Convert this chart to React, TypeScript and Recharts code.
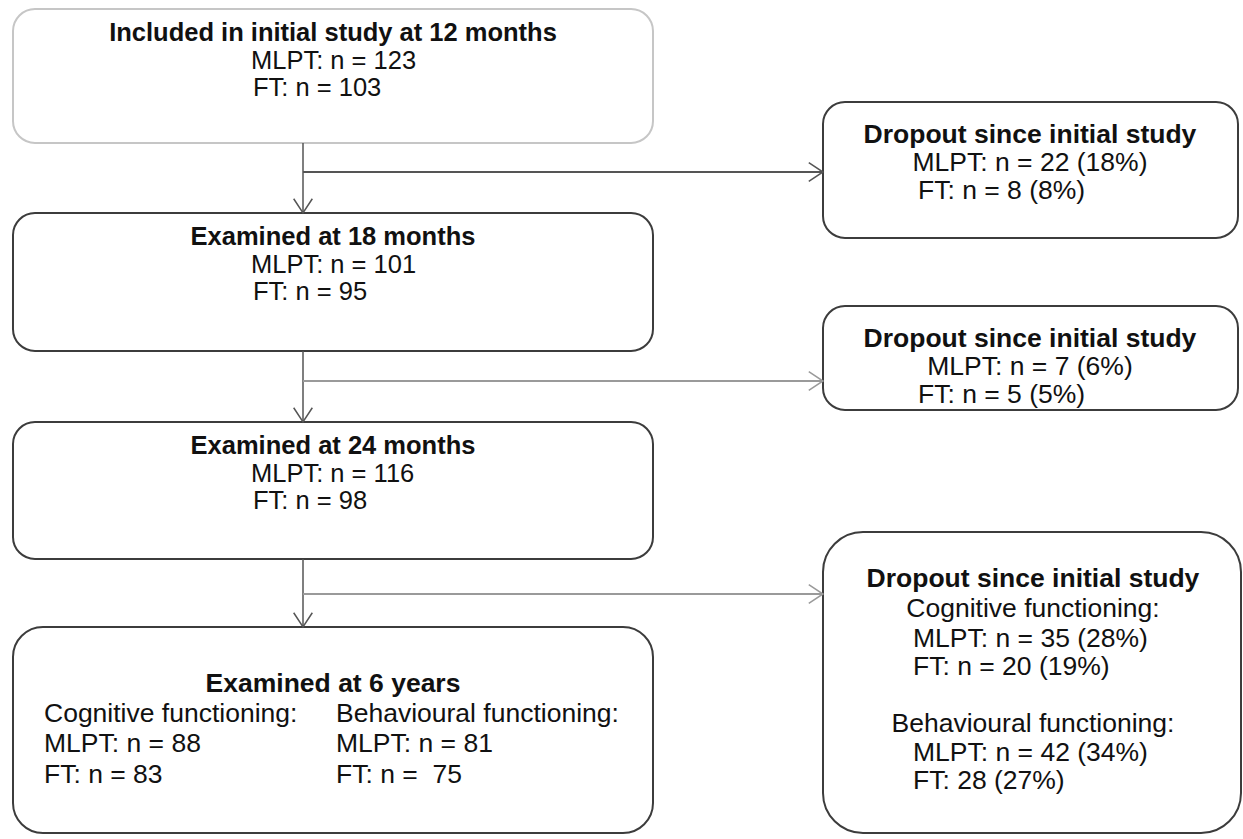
import React from 'react';
import { ComposedChart, XAxis, YAxis, ReferenceArea, ReferenceLine, Scatter } from 'recharts';

// study stages (left column)
const stageTitles = [
  'Included in initial study at 12 months',
  'Examined at 18 months',
  'Examined at 24 months',
  'Examined at 6 years',
];
const stageMlpt = [123, 101, 116];
const stageFt = [103, 95, 98];

// 6 year examination split by outcome
const sixYearGroups = ['Cognitive functioning:', 'Behavioural functioning:'];
const sixYearMlpt = [88, 81];
const sixYearFt = [83, 75];

// dropouts (right column)
const dropoutTitle = 'Dropout since initial study';
const dropoutMlpt = [22, 7];
const dropoutMlptPct = [18, 6];
const dropoutFt = [8, 5];
const dropoutFtPct = [8, 5];
const finalDropoutMlpt = [35, 42];
const finalDropoutMlptPct = [28, 34];
const finalDropoutFt = [20, 28];
const finalDropoutFtPct = [19, 27];

// layout (chart units == pixels)
const W = 1243;
const H = 839;
const leftX = [13, 653];
const leftY = [[9, 143], [213, 351], [422, 559], [627, 833]];
const rightX = [823, 1238];
const rightY = [[102, 238], [306, 410], [532, 833]];
const flowX = 303;
const branchY = [172, 381, 594];

const FONT = '"Liberation Sans", Arial, Helvetica, sans-serif';

type Line = { text: string; dx: number; dy: number; bold?: boolean; anchor?: 'start' | 'middle'; fs?: number };

const stageLines = (i: number): Line[] => [
  { text: stageTitles[i], dx: 320, dy: 23, bold: true, fs: 25.5 },
  { text: `MLPT: n = ${stageMlpt[i]}`, dx: 238, dy: 50.5, anchor: 'start', fs: 25.5 },
  { text: `FT: n = ${stageFt[i]}`, dx: 240, dy: 78, anchor: 'start', fs: 25.5 },
];

const sixYearLines: Line[] = [
  { text: stageTitles[3], dx: 320, dy: 56, bold: true },
  ...sixYearGroups.flatMap((g, k) => {
    const dx = k === 0 ? 31 : 323;
    return [
      { text: g, dx, dy: 86, anchor: 'start' as const },
      { text: `MLPT: n = ${sixYearMlpt[k]}`, dx, dy: 116, anchor: 'start' as const },
      { text: k === 0 ? `FT: n = ${sixYearFt[k]}` : `FT: n =  ${sixYearFt[k]}`, dx, dy: 147, anchor: 'start' as const },
    ];
  }),
];

const dropoutLines = (i: number): Line[] => [
  { text: dropoutTitle, dx: 207, dy: 32, bold: true },
  { text: `MLPT: n = ${dropoutMlpt[i]} (${dropoutMlptPct[i]}%)`, dx: 207, dy: 60 },
  { text: `FT: n = ${dropoutFt[i]} (${dropoutFtPct[i]}%)`, dx: 95, dy: 88, anchor: 'start' },
];

const finalDropoutLines: Line[] = [
  { text: dropoutTitle, dx: 210, dy: 46, bold: true },
  { text: sixYearGroups[0], dx: 210, dy: 76 },
  { text: `MLPT: n = ${finalDropoutMlpt[0]} (${finalDropoutMlptPct[0]}%)`, dx: 90, dy: 106, anchor: 'start' },
  { text: `FT: n = ${finalDropoutFt[0]} (${finalDropoutFtPct[0]}%)`, dx: 90, dy: 134, anchor: 'start' },
  { text: sixYearGroups[1], dx: 210, dy: 191 },
  { text: `MLPT: n = ${finalDropoutMlpt[1]} (${finalDropoutMlptPct[1]}%)`, dx: 90, dy: 220, anchor: 'start' },
  { text: `FT: ${finalDropoutFt[1]} (${finalDropoutFtPct[1]}%)`, dx: 90, dy: 248, anchor: 'start' },
];

const boxes = [
  { x: leftX, y: leftY[0], r: 22, stroke: '#c6c6c6', lines: stageLines(0) },
  { x: leftX, y: leftY[1], r: 22, stroke: '#3c3c3c', lines: stageLines(1) },
  { x: leftX, y: leftY[2], r: 22, stroke: '#3c3c3c', lines: stageLines(2) },
  { x: leftX, y: leftY[3], r: 30, stroke: '#3c3c3c', lines: sixYearLines },
  { x: rightX, y: rightY[0], r: 22, stroke: '#3c3c3c', lines: dropoutLines(0) },
  { x: rightX, y: rightY[1], r: 22, stroke: '#3c3c3c', lines: dropoutLines(1) },
  { x: [rightX[0], 1241], y: rightY[2], r: 40, stroke: '#3c3c3c', lines: finalDropoutLines },
];

// every text line becomes a point placed through the chart scales
const textPoints = boxes.flatMap((b) =>
  b.lines.map((l) => ({
    x: b.x[0] + l.dx,
    y: b.y[0] + l.dy,
    text: l.text,
    bold: !!l.bold,
    anchor: l.anchor || 'middle',
    fs: l.fs || 26.5,
  })),
);

const boxShape = (r: number, stroke: string) => (props: any) => {
  const { x, y, width, height } = props;
  return <rect x={x} y={y} width={width} height={height} rx={r} ry={r} fill="#fff" stroke={stroke} strokeWidth={2} />;
};

const TextMark = (props: any) => {
  const { cx, cy, payload } = props;
  return (
    <text
      x={cx}
      y={cy}
      textAnchor={payload.anchor}
      dominantBaseline="central"
      fontFamily={FONT}
      fontSize={payload.fs}
      fontWeight={payload.bold ? 700 : 400}
      fill="#111"
      style={{ whiteSpace: 'pre' }}
    >
      {payload.text}
    </text>
  );
};

const arrowShape = (color: string, width: number) => (props: any) => {
  const { x1, y1, x2, y2 } = props;
  const ang = Math.atan2(y2 - y1, x2 - x1);
  const len = 17;
  const spread = 0.58;
  const ax = x2 - len * Math.cos(ang - spread);
  const ay = y2 - len * Math.sin(ang - spread);
  const bx = x2 - len * Math.cos(ang + spread);
  const by = y2 - len * Math.sin(ang + spread);
  return (
    <g fill="none" stroke={color} strokeWidth={width}>
      <line x1={x1} y1={y1} x2={x2} y2={y2} />
      <polyline points={`${ax},${ay} ${x2},${y2} ${bx},${by}`} strokeWidth={1.5} />
    </g>
  );
};

const branchColors = ['#555', '#9a9a9a', '#9a9a9a'];

export default function App() {
  return (
    <div style={{ position: 'absolute', left: 0, top: 0, width: W, height: H, background: '#fff' }}>
      <ComposedChart width={W} height={H} data={textPoints} margin={{ top: 0, right: 0, bottom: 0, left: 0 }}>
        <XAxis type="number" dataKey="x" domain={[0, W]} allowDataOverflow hide />
        <YAxis type="number" dataKey="y" domain={[0, H]} allowDataOverflow reversed hide />
        {[0, 1, 2].map((i) => (
          <ReferenceLine
            key={`v${i}`}
            segment={[{ x: flowX, y: leftY[i][1] }, { x: flowX, y: leftY[i + 1][0] }]}
            ifOverflow="visible"
            shape={arrowShape('#555', 1.5)}
          />
        ))}
        {[0, 1, 2].map((i) => (
          <ReferenceLine
            key={`h${i}`}
            segment={[{ x: flowX, y: branchY[i] }, { x: rightX[0], y: branchY[i] }]}
            ifOverflow="visible"
            shape={arrowShape(branchColors[i], 2)}
          />
        ))}
        {boxes.map((b, i) => (
          <ReferenceArea
            key={`b${i}`}
            x1={b.x[0]}
            x2={b.x[1]}
            y1={b.y[0]}
            y2={b.y[1]}
            ifOverflow="visible"
            shape={boxShape(b.r, b.stroke)}
          />
        ))}
        <Scatter data={textPoints} dataKey="y" shape={TextMark} isAnimationActive={false} />
      </ComposedChart>
    </div>
  );
}
